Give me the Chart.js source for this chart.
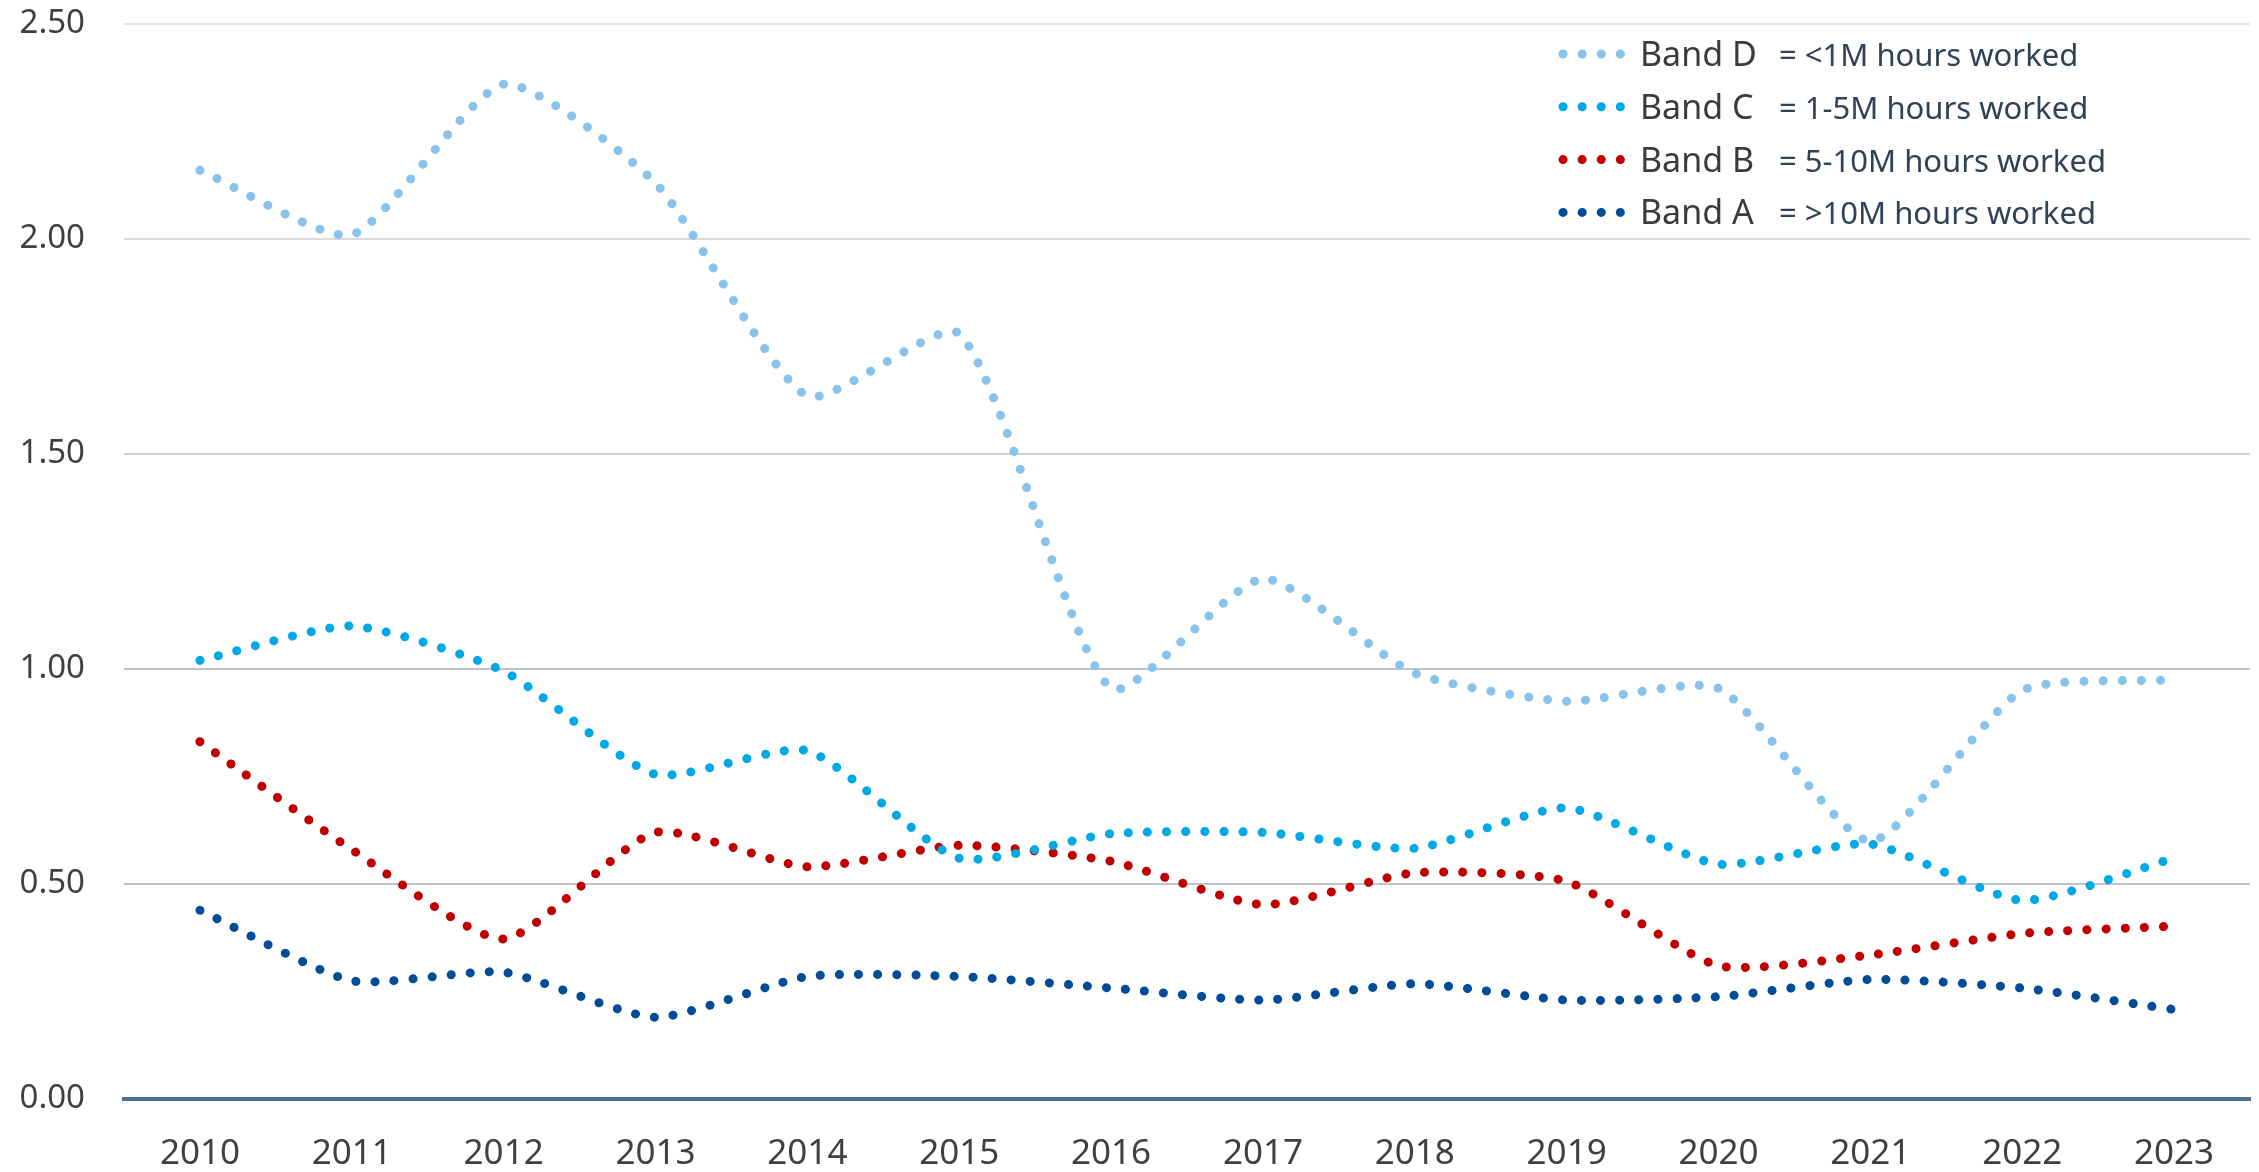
<!DOCTYPE html>
<html>
<head>
<meta charset="utf-8">
<script src="https://cdn.jsdelivr.net/npm/chart.js@4"></script>
<style>
  html, body { margin: 0; padding: 0; background: #ffffff; }
  #wrap { width: 2259px; height: 1172px; position: relative; }
</style>
</head>
<body>
<div id="wrap"><canvas id="bandChart"></canvas></div>
<script>
const years = ['2010', '2011', '2012', '2013', '2014', '2015', '2016', '2017', '2018', '2019', '2020', '2021', '2022', '2023'];

const bandD = [2.16, 2.01, 2.36, 2.13, 1.635, 1.78, 0.955, 1.21, 0.99, 0.925, 0.955, 0.60, 0.95, 0.975];
const bandC = [1.02, 1.10, 0.995, 0.755, 0.81, 0.56, 0.617, 0.62, 0.583, 0.677, 0.546, 0.593, 0.462, 0.56];
const bandB = [0.831, 0.58, 0.372, 0.62, 0.54, 0.59, 0.553, 0.452, 0.526, 0.506, 0.31, 0.335, 0.385, 0.402];
const bandA = [0.439, 0.275, 0.295, 0.19, 0.285, 0.285, 0.258, 0.23, 0.268, 0.23, 0.238, 0.278, 0.258, 0.208];

const bandNames = ['Band D', 'Band C', 'Band B', 'Band A'];
const bandNotes = ['= <1M hours worked', '= 1-5M hours worked', '= 5-10M hours worked', '= >10M hours worked'];
const bandColors = ['#89c3eb', '#00a8e6', '#c00000', '#004c97'];

const yTicks = [0, 0.5, 1, 1.5, 2, 2.5];

const FONT = '"Noto Sans", "Open Sans", sans-serif';

function dotted(label, data, color) {
    return {
        label: label,
        data: data,
        borderColor: color,
        backgroundColor: color,
        borderWidth: 9,
        borderDash: [0.1, 19],
        borderCapStyle: 'round',
        tension: 0.2,
        pointRadius: 0,
        fill: false
    };
}

// legend drawn by hand so the band name and its note can use different fonts
const bandLegend = {
    id: 'bandLegend',
    afterDraw(chart) {
        const ctx = chart.ctx;
        ctx.save();
        bandNames.forEach((name, i) => {
            const base = 66 + i * 52.8;
            ctx.strokeStyle = bandColors[i];
            ctx.lineWidth = 9;
            ctx.lineCap = 'round';
            ctx.setLineDash([0.1, 19]);
            ctx.beginPath();
            ctx.moveTo(1563, base - 12);
            ctx.lineTo(1621, base - 12);
            ctx.stroke();
            ctx.setLineDash([]);

            ctx.textBaseline = 'alphabetic';
            ctx.textAlign = 'left';
            ctx.fillStyle = '#3b3b3b';
            ctx.font = '34px ' + FONT;
            ctx.fillText(name, 1640, base);
            ctx.fillStyle = '#2f4256';
            ctx.font = '31px ' + FONT;
            ctx.fillText(bandNotes[i], 1779, base);
        });
        ctx.restore();
    }
};

function gridColor(v) {
    if (v === 0) return '#c8cdd2';
    if (v >= 2.5) return '#e4e4e4';
    if (v >= 2) return '#d9d9d9';
    if (v >= 1.5) return '#cdd1d6';
    return '#bcc3cb';
}

const ctx = document.getElementById('bandChart').getContext('2d');
const chart = new Chart(ctx, {
    type: 'line',
    data: {
        labels: years,
        datasets: [
            dotted(bandNames[0], bandD, bandColors[0]),
            dotted(bandNames[1], bandC, bandColors[1]),
            dotted(bandNames[2], bandB, bandColors[2]),
            dotted(bandNames[3], bandA, bandColors[3])
        ]
    },
    options: {
        responsive: true,
        maintainAspectRatio: false,
        animation: false,
        layout: { padding: { top: 24, right: 9, bottom: 0, left: 0 } },
        plugins: {
            legend: { display: false },
            tooltip: { enabled: false }
        },
        scales: {
            x: {
                offset: true,
                grid: { display: false, drawTicks: false },
                border: { display: true, color: '#4f6f90', width: 4 },
                ticks: {
                    color: '#404040',
                    font: { family: FONT, size: 35 },
                    padding: 34,
                    maxRotation: 0,
                    autoSkip: false
                },
                afterFit(scale) {
                    scale.height = 73;
                    scale.paddingLeft = 0;
                    scale.paddingRight = 0;
                }
            },
            y: {
                min: 0,
                max: 2.5,
                afterBuildTicks(scale) { scale.ticks = yTicks.map(v => ({ value: v })); },
                grid: {
                    drawTicks: false,
                    lineWidth: 2,
                    color: c => gridColor(c.tick ? c.tick.value : 0)
                },
                border: { display: false },
                ticks: {
                    color: '#404040',
                    font: { family: FONT, size: 33 },
                    padding: 39,
                    callback: v => Number(v).toFixed(2)
                },
                afterFit(scale) {
                    scale.width = 124;
                    scale.paddingTop = 0;
                    scale.paddingBottom = 0;
                }
            }
        }
    },
    plugins: [bandLegend]
});
</script>
</body>
</html>
